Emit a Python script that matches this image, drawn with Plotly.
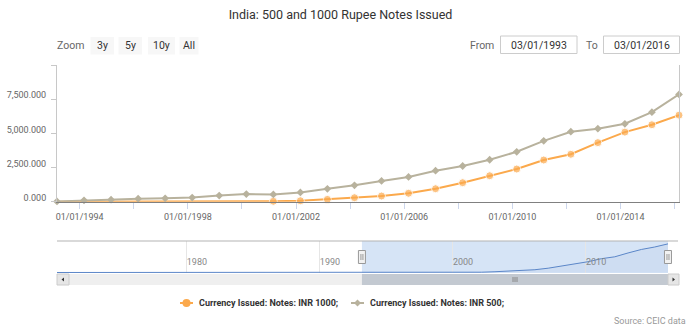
import plotly.graph_objects as go
from datetime import date

# ---- data (INR bn, end of March each year) ----
years = list(range(1993, 2017))
inr1000 = [0, 0, 0, 0, 0, 0, 0, 0, 30, 70, 170, 293, 417, 615, 950, 1390,
           1900, 2390, 3050, 3470, 4320, 5090, 5630, 6330]
inr500 = [20, 100, 150, 220, 250, 300, 450, 560, 530, 680, 940, 1200, 1520,
          1810, 2270, 2610, 3070, 3650, 4450, 5120, 5340, 5700, 6550, 7850]

# navigator history for the INR 1000 series before 1993
nav_years_early = list(range(1970, 1993))
inr1000_early = [0, 0, 0, 0, 0, 0, 0, 0, 0, 0, 0, 0, 0, 0, 0, 0, 0, 0, 0, 0, 0, 0, 0]

x_tick_years = [1994, 1996, 1998, 2000, 2002, 2004, 2006, 2008, 2010, 2012, 2014, 2016]
x_tick_labels = ["01/01/1994", "", "01/01/1998", "", "01/01/2002", "", "01/01/2006", "",
                 "01/01/2010", "", "01/01/2014", ""]
y_ticks = [0, 2500, 5000, 7500, 10000]

range_buttons = ["3y", "5y", "10y", "All"]

series_names = ["Currency Issued: Notes: INR 1000;", "Currency Issued: Notes: INR 500;"]
ORANGE = "#fba94c"
GREY = "#b8b29d"
NAV_BLUE = "#5b86c8"
FONT = "Roboto"

W, H = 693, 334


def px(x):
    return x / W


def py(y):
    return 1 - y / H


def text(s, x, y, size, color, anchor="center"):
    return dict(text=s, x=px(x), y=py(y), xref="paper", yref="paper", xanchor=anchor,
                yanchor="middle", showarrow=False,
                font=dict(family=FONT, size=size, color=color))


dates = [date(y, 3, 1).isoformat() for y in years]
nav_dates = [date(y, 3, 1).isoformat() for y in nav_years_early] + dates
nav_vals = inr1000_early + inr1000

fig = go.Figure()

fig.add_trace(go.Scatter(
    x=dates, y=inr1000, mode="lines+markers", name=series_names[0],
    line=dict(color=ORANGE, width=2),
    marker=dict(color=ORANGE, size=[8 if v > 0 else 0 for v in inr1000], symbol="circle"),
    cliponaxis=False, showlegend=False, xaxis="x", yaxis="y"))

fig.add_trace(go.Scatter(
    x=dates, y=inr500, mode="lines+markers", name=series_names[1],
    line=dict(color=GREY, width=2),
    marker=dict(color=GREY, size=6, symbol="diamond"),
    cliponaxis=False, showlegend=False, xaxis="x", yaxis="y"))

# navigator series
fig.add_trace(go.Scatter(
    x=nav_dates, y=nav_vals, mode="lines", line=dict(color=NAV_BLUE, width=1),
    fill="tozeroy", fillcolor="rgba(51,92,173,0.05)",
    showlegend=False, hoverinfo="skip", xaxis="x2", yaxis="y2"))

sel_start, sel_end = dates[0], dates[-1]

shapes = []
annotations = []

# navigator selected zone
shapes.append(dict(type="rect", xref="x2", yref="y2 domain", x0=sel_start, x1=sel_end,
                   y0=0, y1=1, fillcolor="#d6e4f6", line=dict(width=0), layer="below"))
# navigator outline
shapes.append(dict(type="line", xref="paper", yref="paper", x0=px(57), x1=px(678),
                   y0=py(241), y1=py(241), line=dict(color="#b3b3b3", width=1)))

# scrollbar track, thumb and buttons
shapes.append(dict(type="rect", xref="paper", yref="paper", x0=px(57), x1=px(679),
                   y0=py(285), y1=py(274), fillcolor="#efefef", line=dict(width=0)))
shapes.append(dict(type="rect", xref="x2", yref="paper", x0=sel_start, x1=sel_end,
                   y0=py(285), y1=py(274), fillcolor="#c3c9d1", line=dict(width=0)))
for bx0, bx1 in [(57, 69), (668, 679)]:
    shapes.append(dict(type="rect", xref="paper", yref="paper", x0=px(bx0), x1=px(bx1),
                       y0=py(285), y1=py(274), fillcolor="#e6e6e6",
                       line=dict(color="#cccccc", width=1)))
shapes.append(dict(type="path", xref="paper", yref="paper",
                   path=f"M{px(61.5)},{py(279.5)} L{px(64)},{py(277.5)} L{px(64)},{py(281.5)} Z",
                   fillcolor="#333333", line=dict(width=0)))
shapes.append(dict(type="path", xref="paper", yref="paper",
                   path=f"M{px(675)},{py(279.5)} L{px(672.5)},{py(277.5)} L{px(672.5)},{py(281.5)} Z",
                   fillcolor="#333333", line=dict(width=0)))
# thumb grip
sel_mid = date(1993 + (2016 - 1993) // 2, 9, 1).isoformat()
for off in (-2, 0, 2):
    shapes.append(dict(type="line", xref="x2", yref="paper", xsizemode="pixel",
                       xanchor=sel_mid, x0=off, x1=off, y0=py(282), y1=py(277),
                       line=dict(color="#888888", width=1)))

# navigator handles
for anchor in (sel_start, sel_end):
    shapes.append(dict(type="rect", xref="x2", yref="paper", xsizemode="pixel",
                       xanchor=anchor, x0=-3.5, x1=3.5, y0=py(263.5), y1=py(250.5),
                       fillcolor="#f2f2f2", line=dict(color="#999999", width=1)))
    for off in (-1, 1):
        shapes.append(dict(type="line", xref="x2", yref="paper", xsizemode="pixel",
                           xanchor=anchor, x0=off, x1=off, y0=py(260), y1=py(254),
                           line=dict(color="#999999", width=1)))

# range selector
annotations.append(text("Zoom", 70.5, 45.5, 10.5, "#666666"))
button_boxes = [(90.5, 114), (118.5, 142), (148, 175), (179.5, 198.5)]
for label, (bx0, bx1) in zip(range_buttons, button_boxes):
    shapes.append(dict(type="rect", xref="paper", yref="paper", x0=px(bx0), x1=px(bx1),
                       y0=py(54.5), y1=py(37), fillcolor="#f7f7f7", line=dict(width=0)))
    annotations.append(text(label, (bx0 + bx1) / 2, 45.5, 10.5, "#333333"))


# date range inputs
def fmt(d):
    y, m, dd = d.split("-")
    return f"{m}/{dd}/{y}"


for lab, lx, (bx0, bx1), d in [("From", 482, (500.5, 577), sel_start),
                               ("To", 591.5, (603.5, 679.5), sel_end)]:
    annotations.append(text(lab, lx, 45, 10.5, "#666666"))
    shapes.append(dict(type="rect", xref="paper", yref="paper", x0=px(bx0), x1=px(bx1),
                       y0=py(53.5), y1=py(36), fillcolor="white",
                       line=dict(color="#cccccc", width=1)))
    annotations.append(text(fmt(d), (bx0 + bx1) / 2, 45, 10.5, "#333333"))

# legend
leg_y = 303
for name, color, lx, kind in [(series_names[0], ORANGE, 180, "circle"),
                              (series_names[1], GREY, 351, "diamond")]:
    shapes.append(dict(type="line", xref="paper", yref="paper", x0=px(lx), x1=px(lx + 13),
                       y0=py(leg_y), y1=py(leg_y), line=dict(color=color, width=2)))
    cx = lx + 6.5
    if kind == "circle":
        shapes.append(dict(type="circle", xref="paper", yref="paper", x0=px(cx - 4),
                           x1=px(cx + 4), y0=py(leg_y + 4), y1=py(leg_y - 4),
                           fillcolor=color, line=dict(width=0)))
    else:
        shapes.append(dict(type="path", xref="paper", yref="paper",
                           path=(f"M{px(cx)},{py(leg_y - 3.5)} L{px(cx + 3.5)},{py(leg_y)} "
                                 f"L{px(cx)},{py(leg_y + 3.5)} L{px(cx - 3.5)},{py(leg_y)} Z"),
                           fillcolor=color, line=dict(width=0)))
    annotations.append(text(f"<b>{name}</b>", lx + 17, leg_y, 9, "#333333", "left"))

annotations.append(text("Source: CEIC data", 687.5, 320.7, 9, "#999999", "right"))

fig.update_layout(
    width=W, height=H,
    margin=dict(l=0, r=0, t=0, b=0),
    paper_bgcolor="white", plot_bgcolor="white",
    font=dict(family=FONT),
    title=dict(text="India: 500 and 1000 Rupee Notes Issued", x=px(340.5), xanchor="center",
               y=py(14.5), yanchor="middle", font=dict(family=FONT, size=12.5, color="#333333")),
    xaxis=dict(domain=[px(57), px(679)], type="date", range=[dates[0], dates[-1]],
               tickvals=[date(y, 1, 1).isoformat() for y in x_tick_years],
               ticktext=x_tick_labels, showgrid=False, zeroline=False,
               showline=True, linecolor="#808080", linewidth=1,
               ticks="outside", ticklen=6, tickcolor="#ccd6eb",
               tickfont=dict(family=FONT, size=9, color="#666666"), anchor="y"),
    yaxis=dict(domain=[py(201.7), py(65)], range=[0, 10000], tickvals=y_ticks,
               ticktext=[f"{v:,.3f}" if v < 10000 else "" for v in y_ticks],
               showgrid=False, zeroline=False, showline=True, mirror=True,
               linecolor="#c8c8c8", linewidth=1, ticks="outside", ticklen=5,
               tickcolor="#c8c8c8", ticklabelshift=-4, ticklabelstandoff=3,
               tickfont=dict(family=FONT, size=9, color="#666666"), anchor="x"),
    xaxis2=dict(domain=[px(57), px(678)], type="date", range=["1970-04-01", "2016-12-01"],
                tick0="1980-01-01", dtick="M120", tickformat="%Y", showgrid=True,
                gridcolor="#e6e6e6", zeroline=False, showline=False, ticks="",
                ticklabelposition="inside right",
                tickfont=dict(family=FONT, size=9, color="#888888"), anchor="y2"),
    yaxis2=dict(domain=[py(273), py(241)], range=[-110, 6963], visible=False, anchor="x2"),
    shapes=shapes,
    annotations=annotations,
    showlegend=False,
)

fig.write_html("out.html")
